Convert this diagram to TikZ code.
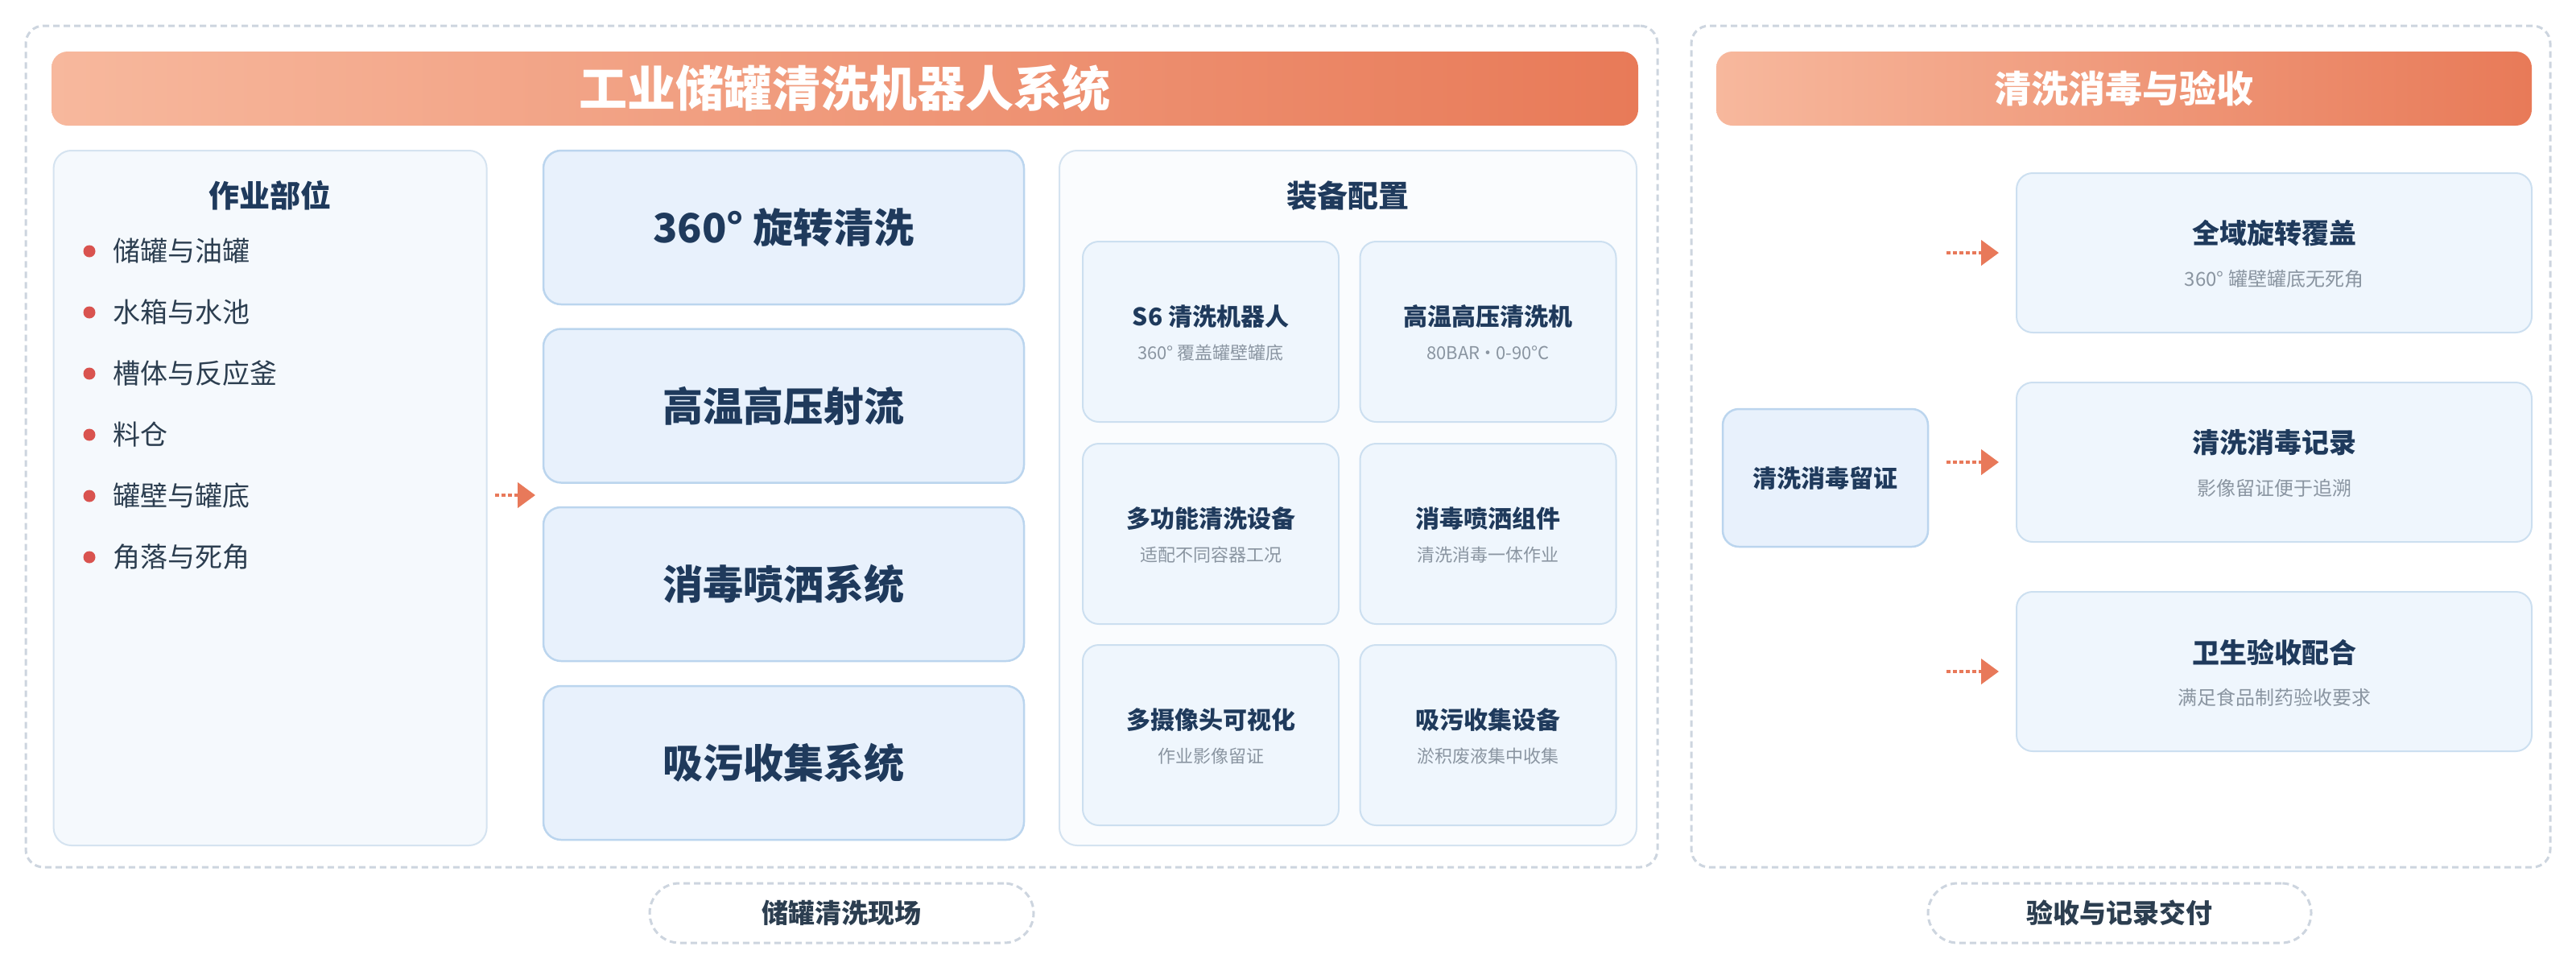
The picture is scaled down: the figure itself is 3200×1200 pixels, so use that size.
\documentclass[tikz,border=0pt]{standalone}
\usepackage{fontspec}
\setmainfont{Noto Sans CJK SC}
\usetikzlibrary{arrows.meta,calc}
\definecolor{navy}{HTML}{1F3A5C}
\definecolor{txt}{HTML}{2C3E50}
\definecolor{subg}{HTML}{8A95A1}
\definecolor{dashc}{HTML}{CDD5DF}
\definecolor{panelfill}{HTML}{F5F9FD}
\definecolor{panelline}{HTML}{D5E3F0}
\definecolor{boxfill}{HTML}{E8F1FC}
\definecolor{boxline}{HTML}{BBD5EE}
\definecolor{cardfill}{HTML}{EFF6FD}
\definecolor{cardline}{HTML}{CCDFF0}
\definecolor{eqfill}{HTML}{FAFCFE}
\definecolor{arrowc}{HTML}{E8795A}
\definecolor{gradL}{HTML}{F7B89D}
\definecolor{gradR}{HTML}{E87A58}
\definecolor{bulletc}{HTML}{D9534F}
\newcommand\setfs[1]{\fontsize{#1}{#1}\selectfont}
\begin{document}
\begin{tikzpicture}[x=1pt,y=-1pt,
  frame/.style={draw=dashc, line width=3pt, dash pattern=on 8pt off 5pt, rounded corners=22pt, inner sep=0pt},
  pill/.style={draw=dashc, line width=3pt, dash pattern=on 8pt off 5pt, rounded corners=37pt, inner sep=0pt, minimum height=74, text=txt, font=\setfs{33}\bfseries},
  titlebar/.style={left color=gradL, right color=gradR, rounded corners=20pt, inner sep=0pt, minimum height=92, text=white},
  panel/.style={draw=panelline, fill=panelfill, line width=2pt, rounded corners=22pt, inner sep=0pt, minimum height=863},
  bigbox/.style={draw=boxline, fill=boxfill, line width=2.5pt, rounded corners=22pt, inner sep=0pt, minimum width=597, minimum height=191, text=navy, font=\setfs{50}\bfseries},
  eqcard/.style={draw=cardline, fill=cardfill, line width=2pt, rounded corners=20pt, inner sep=0pt, minimum width=318, minimum height=224},
  rcard/.style={draw=cardline, fill=cardfill, line width=2pt, rounded corners=20pt, inner sep=0pt, minimum width=640, minimum height=198},
  ctitle/.style={text=navy, font=\setfs{30}\bfseries, inner sep=0pt},
  csub/.style={text=subg, font=\setfs{22}, inner sep=0pt},
  rtitle/.style={text=navy, font=\setfs{34}\bfseries, inner sep=0pt},
  rsub/.style={text=subg, font=\setfs{24}, inner sep=0pt},
  ptitle/.style={text=navy, font=\setfs{38}\bfseries, inner sep=0pt},
  bullet/.style={circle, fill=bulletc, inner sep=0pt, minimum size=15},
  btext/.style={anchor=west, text=txt, font=\setfs{34}, inner sep=0pt},
  flow/.style={draw=arrowc, line width=4.5pt, dash pattern=on 5pt off 3pt, -{Triangle[length=22pt,width=31pt]}}
]
\useasboundingbox (0,0) rectangle (3200,1200);
\fill[white] (0,0) rectangle (3200,1200);

% group frames
\node[frame, minimum width=2027, minimum height=1045] (leftframe) at (1045.5,554.5) {};
\node[frame, minimum width=1067, minimum height=1045] (rightframe) at (2634.5,554.5) {};

% title bars
\node[titlebar, minimum width=1971, font=\setfs{60}\bfseries] (bar1) at (1049.5,110) {工业储罐清洗机器人系统};
\node[titlebar, minimum width=1013, font=\setfs{46}\bfseries] (bar2) at (2638.5,110) {清洗消毒与验收};

% left panel
\node[panel, minimum width=538] (lp) at (335.6,618.5) {};
\node[ptitle] (lpt) at (335.6,243) {作业部位};
\foreach \i/\y/\t in {1/312/储罐与油罐, 2/388/水箱与水池, 3/464/槽体与反应釜, 4/540/料仓, 5/616/罐壁与罐底, 6/692/角落与死角}{
  \node[bullet] (bd\i) at (111,\y) {};
  \node[btext] (bt\i) at (140,\y) {\t};
}

% middle column
\node[bigbox] (m1) at (973.5,282.5) {360° 旋转清洗};
\node[bigbox] (m2) at (973.5,504) {高温高压射流};
\node[bigbox] (m3) at (973.5,725.5) {消毒喷洒系统};
\node[bigbox] (m4) at (973.5,947.5) {吸污收集系统};
\coordinate (midin) at (675,615);
\draw[flow] ($(lp.east|-midin)+(9,0)$) -- ($(midin)+(-10,0)$);

% equipment panel
\node[panel, minimum width=717, fill=eqfill] (ep) at (1674.5,618.5) {};
\node[ptitle] (ept) at (1674.5,243) {装备配置};
\foreach \n/\x/\y/\a/\b in {
  c11/1504/412/S6 清洗机器人/360° 覆盖罐壁罐底,
  c12/1848.5/412/高温高压清洗机/80BAR\kern-1pt·\kern-1pt0-90°C,
  c21/1504/663/多功能清洗设备/适配不同容器工况,
  c22/1848.5/663/消毒喷洒组件/清洗消毒一体作业,
  c31/1504/913/多摄像头可视化/作业影像留证,
  c32/1848.5/913/吸污收集设备/淤积废液集中收集}{
  \node[eqcard] (\n) at (\x,\y) {};
  \node[ctitle] (\n t) at ($(\n.center)+(0,-19)$) {\a};
  \node[csub] (\n s) at ($(\n.center)+(0,26)$) {\b};
}

% right side
\node[draw=boxline, fill=boxfill, line width=2.5pt, rounded corners=20pt, inner sep=0pt, minimum width=255, minimum height=171, text=navy, font=\setfs{30}\bfseries] (cert) at (2267.5,593.5) {清洗消毒留证};
\foreach \n/\y/\a/\b in {
  r1/314/全域旋转覆盖/360° 罐壁罐底无死角,
  r2/574/清洗消毒记录/影像留证便于追溯,
  r3/834/卫生验收配合/满足食品制药验收要求}{
  \node[rcard] (\n) at (2825,\y) {};
  \node[rtitle] (\n t) at ($(\n.center)+(0,-24)$) {\a};
  \node[rsub] (\n s) at ($(\n.center)+(0,32)$) {\b};
  \draw[flow] ($(cert.east|-\n.west)+(22,0)$) -- ($(\n.west)+(-21,0)$);
}

% bottom labels
\node[pill, minimum width=477] (lab1) at (1045.5,1134) {储罐清洗现场};
\node[pill, minimum width=476] (lab2) at (2633,1134) {验收与记录交付};
\end{tikzpicture}
\end{document}
